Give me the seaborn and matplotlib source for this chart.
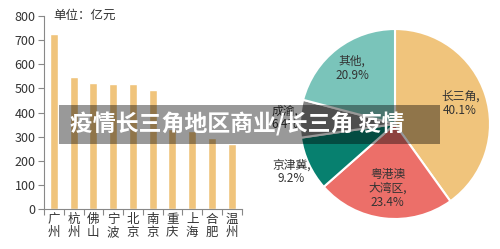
import numpy as np
import matplotlib
matplotlib.use("Agg")
import matplotlib.pyplot as plt
import matplotlib.patches as mpatches
import seaborn as sns
import pandas as pd

# bar chart data (单位：亿元)
cities = ["广州", "杭州", "佛山", "宁波", "北京", "南京", "重庆", "上海", "合肥", "温州"]
sales = [725, 548, 523, 520, 517, 492, 330, 322, 296, 270]

# pie chart data
regions = ["长三角", "粤港澳\n大湾区", "京津冀", "成渝", "其他"]
shares = [40.1, 23.4, 9.2, 6.4, 20.9]
pie_colors = ["#F0C47C", "#EC6F69", "#07806F", "#858585", "#7AC4BA"]
label_dist = [0.72, 0.68, 1.2, 1.16, 0.74]

banner_text = "疫情长三角地区商业/长三角 疫情"

sns.set_theme(style="white")
plt.rcParams["font.family"] = ["Noto Sans CJK SC", "DejaVu Sans"]
plt.rcParams["axes.unicode_minus"] = False

fig = plt.figure(figsize=(5.0, 2.49), dpi=100)

# ---- bar chart ----
ax = fig.add_axes([0.088, 0.1606, 0.395, 0.775])
df = pd.DataFrame({"city": cities, "value": sales})
sns.barplot(data=df, x="city", y="value", color="#F0C47C", width=0.4,
            saturation=1, ax=ax)
ax.set_xlim(-0.5, len(cities) - 0.5)
ax.set_ylim(0, 800)
ax.set_yticks(np.arange(0, 801, 100))
ax.set_xlabel("")
ax.set_ylabel("")
ax.set_xticks(range(len(cities)))
ax.set_xticklabels(["\n".join(c) for c in cities], fontsize=9, color="#333333",
                   linespacing=1.0)
ax.set_xticks(np.arange(-0.5, len(cities), 1), minor=True)
ax.tick_params(axis="x", which="major", length=0, pad=3)
ax.tick_params(axis="x", which="minor", length=4, color="#888888", width=0.8,
               bottom=True)
ax.tick_params(axis="y", length=4, color="#888888", width=0.8, left=True,
               labelsize=9, labelcolor="#333333", pad=2)
for s in ["top", "right"]:
    ax.spines[s].set_visible(False)
for s in ["left", "bottom"]:
    ax.spines[s].set_color("#888888")
    ax.spines[s].set_linewidth(0.8)
fig.text(0.106, 0.94, "单位：亿元", fontsize=9, color="#333333", va="center")

# ---- pie chart ----
pax = fig.add_axes([0.6, 0.1205, 0.38, 0.763])
wedges, _ = pax.pie(shares, colors=pie_colors, startangle=90, counterclock=False,
                    radius=1.0, wedgeprops=dict(edgecolor="white", linewidth=1.5))
for w, name, val, d in zip(wedges, regions, shares, label_dist):
    ang = np.deg2rad((w.theta1 + w.theta2) / 2)
    pax.text(d * np.cos(ang), d * np.sin(ang), f"{name},\n{val}%",
             ha="center", va="center", fontsize=8.5, color="#333333",
             linespacing=1.1)
pax.set_xlim(-1, 1)
pax.set_ylim(-1, 1)
pax.set_aspect("equal")
pax.axis("off")

# ---- overlay banner ----
fig.patches.append(mpatches.Rectangle((0.118, 0.4217), 0.762, 0.1566,
                                      transform=fig.transFigure,
                                      facecolor="black", alpha=0.4,
                                      edgecolor="none", zorder=10))
fig.text(0.14, 0.5, banner_text, fontsize=16.5, fontweight="bold",
         color="white", va="center", ha="left", zorder=11)

fig.savefig("out.png", dpi=100)
